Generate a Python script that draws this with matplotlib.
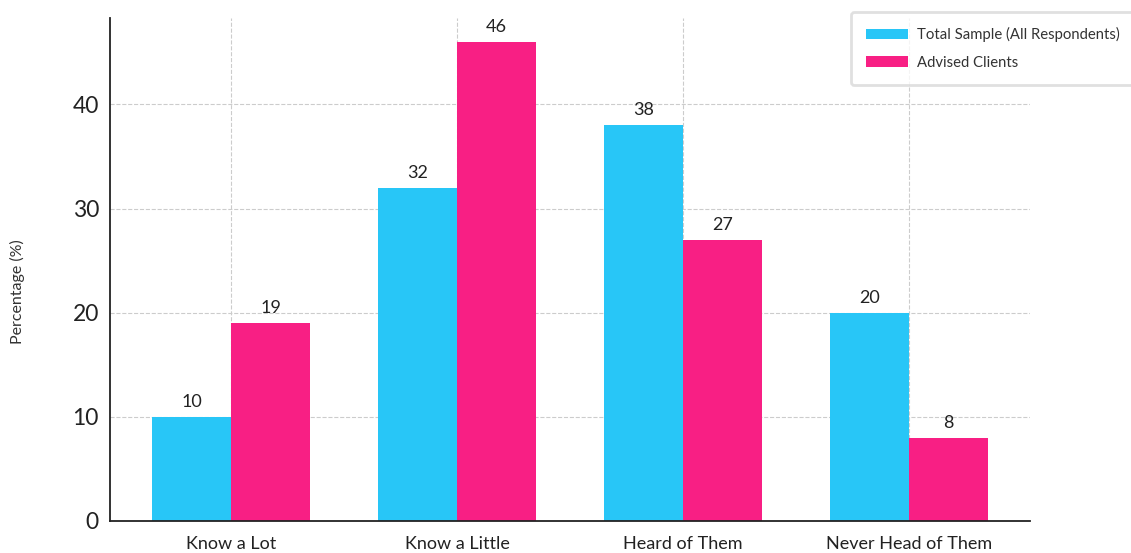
import numpy as np
import matplotlib.pyplot as plt

plt.rcParams['font.family'] = ['Lato', 'DejaVu Sans']

categories = ['Know a Lot', 'Know a Little', 'Heard of Them', 'Never Head of Them']
total_sample = [10, 32, 38, 20]
advised_clients = [19, 46, 27, 8]

cyan = '#28C6F7'
pink = '#F81F84'

x = np.arange(len(categories))
w = 0.35

fig = plt.figure(figsize=(11.31, 5.53), dpi=100)
ax = fig.add_axes([0.0973, 0.058, 0.8134, 0.9095])

b1 = ax.bar(x - w/2, total_sample, w, color=cyan, label='Total Sample (All Respondents)', zorder=2)
b2 = ax.bar(x + w/2, advised_clients, w, color=pink, label='Advised Clients', zorder=2)

# value labels on top of each bar
for bars, vals in [(b1, total_sample), (b2, advised_clients)]:
    for bar, v in zip(bars, vals):
        ax.annotate(str(v), (bar.get_x() + bar.get_width()/2, v),
                    xytext=(0, 5), textcoords='offset points',
                    ha='center', va='bottom', fontsize=13, color='#222222')

ax.set_ylim(0, 48.3)
ax.set_xticks(x)
ax.set_xticklabels(categories, fontsize=13, color='#222222')
ax.set_yticks([0, 10, 20, 30, 40])
ax.tick_params(axis='y', labelsize=16.5, length=0, pad=8, colors='#222222')
ax.tick_params(axis='x', length=0, pad=11)
ax.set_ylabel('Percentage (%)', fontsize=11.5, color='#333333')
ax.yaxis.set_label_coords(-0.092, 0.455)

ax.grid(True, linestyle='--', color='#cccccc', linewidth=0.8, zorder=0)
ax.set_axisbelow(True)
for s in ['top', 'right']:
    ax.spines[s].set_visible(False)
for s in ['left', 'bottom']:
    ax.spines[s].set_color('#222222')
    ax.spines[s].set_linewidth(1.3)

leg = fig.legend(loc='upper left', bbox_to_anchor=(844/1131, 1 - 5/553),
                 fontsize=10.7, frameon=True, fancybox=True,
                 handlelength=2.8, handleheight=0.7, handletextpad=0.6,
                 labelspacing=0.9, borderpad=1.0)
leg.get_frame().set_edgecolor('#d9d9d9')
leg.get_frame().set_linewidth(2)
for t in leg.get_texts():
    t.set_color('#333333')

fig.savefig('out.png', dpi=100)
